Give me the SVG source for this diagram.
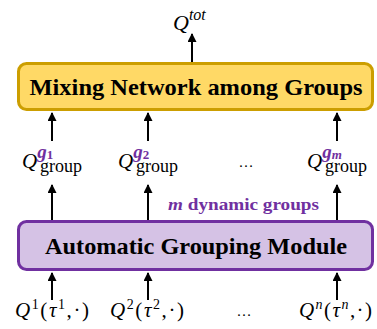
<svg xmlns="http://www.w3.org/2000/svg" width="377" height="329" viewBox="0 0 377 329">
<style>
.math{font-family:"Liberation Serif","DejaVu Serif",serif;fill:#000;}
.it{font-style:italic;}
.box-text{font-family:"Liberation Serif","DejaVu Serif",serif;font-weight:bold;fill:#000;}
.pur{font-family:"Liberation Serif","DejaVu Serif",serif;fill:#7030A0;font-weight:bold;}
.conn{stroke:#000;stroke-width:2;fill:none;marker-end:url(#arr);}
</style>
<defs>
<marker id="arr" markerWidth="9" markerHeight="9" refX="8" refY="4.5" orient="auto" markerUnits="userSpaceOnUse">
<path d="M0,0 L9,4.5 L0,9 Z" fill="#000"/>
</marker>
</defs>
<rect width="377" height="329" fill="#fff"/>
<g id="connectors">
<line class="conn" x1="192" y1="62" x2="192" y2="34"/>
<line class="conn" x1="52" y1="141" x2="52" y2="113"/>
<line class="conn" x1="148" y1="141" x2="148" y2="113"/>
<line class="conn" x1="337" y1="141" x2="337" y2="113"/>
<line class="conn" x1="52" y1="220" x2="52" y2="185"/>
<line class="conn" x1="148" y1="220" x2="148" y2="185"/>
<line class="conn" x1="337" y1="220" x2="337" y2="185"/>
<line class="conn" x1="52" y1="300" x2="52" y2="273"/>
<line class="conn" x1="148" y1="300" x2="148" y2="273"/>
<line class="conn" x1="337" y1="300" x2="337" y2="273"/>
</g>
<g id="qtot">
<text class="math it" x="173" y="30" font-size="22">Q<tspan dy="-10" font-size="16">tot</tspan></text>
</g>
<g id="mixing">
<rect x="18.5" y="63.5" width="354" height="46" rx="8" fill="#FFD966" stroke="#CC9E00" stroke-width="3"/>
<text class="box-text" x="196" y="95" text-anchor="middle" font-size="23" textLength="333" lengthAdjust="spacingAndGlyphs">Mixing Network among Groups</text>
</g>
<g id="qg1">
<text class="math" x="22" y="168" font-size="21"><tspan class="it">Q</tspan><tspan class="pur" font-style="italic" font-size="19" dy="-10">g</tspan><tspan class="pur" font-size="13" dy="1">1</tspan><tspan x="40" dy="13" font-size="18">group</tspan></text>
</g>
<g id="qg2">
<text class="math" x="118" y="168" font-size="21"><tspan class="it">Q</tspan><tspan class="pur" font-style="italic" font-size="19" dy="-10">g</tspan><tspan class="pur" font-size="13" dy="1">2</tspan><tspan x="136" dy="13" font-size="18">group</tspan></text>
</g>
<g id="dots-mid">
<text class="math" x="246" y="167" text-anchor="middle" font-size="15">…</text>
</g>
<g id="qgm">
<text class="math" x="307" y="168" font-size="21"><tspan class="it">Q</tspan><tspan class="pur" font-style="italic" font-size="19" dy="-10">g</tspan><tspan class="pur" font-style="italic" font-size="13" dy="1">m</tspan><tspan x="325" dy="13" font-size="18">group</tspan></text>
</g>
<g id="dyn-label">
<text class="pur" x="168" y="210" font-size="16" textLength="151" lengthAdjust="spacingAndGlyphs"><tspan font-style="italic">m</tspan> dynamic groups</text>
</g>
<g id="grouping">
<rect x="18.5" y="221.5" width="354" height="48" rx="8" fill="#D5C2E5" stroke="#7030A0" stroke-width="3"/>
<text class="box-text" x="196" y="254" text-anchor="middle" font-size="24" textLength="302" lengthAdjust="spacingAndGlyphs">Automatic Grouping Module</text>
</g>
<g id="q1">
<text class="math" x="15" y="317" font-size="21" textLength="74" lengthAdjust="spacing"><tspan class="it">Q</tspan><tspan dy="-8" font-size="14">1</tspan><tspan dy="8">(</tspan><tspan class="it">τ</tspan><tspan dy="-8" font-size="14">1</tspan><tspan dy="8">,·)</tspan></text>
</g>
<g id="q2">
<text class="math" x="110" y="317" font-size="21" textLength="74" lengthAdjust="spacing"><tspan class="it">Q</tspan><tspan dy="-8" font-size="14">2</tspan><tspan dy="8">(</tspan><tspan class="it">τ</tspan><tspan dy="-8" font-size="14">2</tspan><tspan dy="8">,·)</tspan></text>
</g>
<g id="dots-bottom">
<text class="math" x="244" y="316" text-anchor="middle" font-size="15">…</text>
</g>
<g id="qn">
<text class="math" x="299" y="317" font-size="21" textLength="73" lengthAdjust="spacing"><tspan class="it">Q</tspan><tspan dy="-8" font-size="14" class="it">n</tspan><tspan dy="8">(</tspan><tspan class="it">τ</tspan><tspan dy="-8" font-size="14" class="it">n</tspan><tspan dy="8">,·)</tspan></text>
</g>
</svg>
